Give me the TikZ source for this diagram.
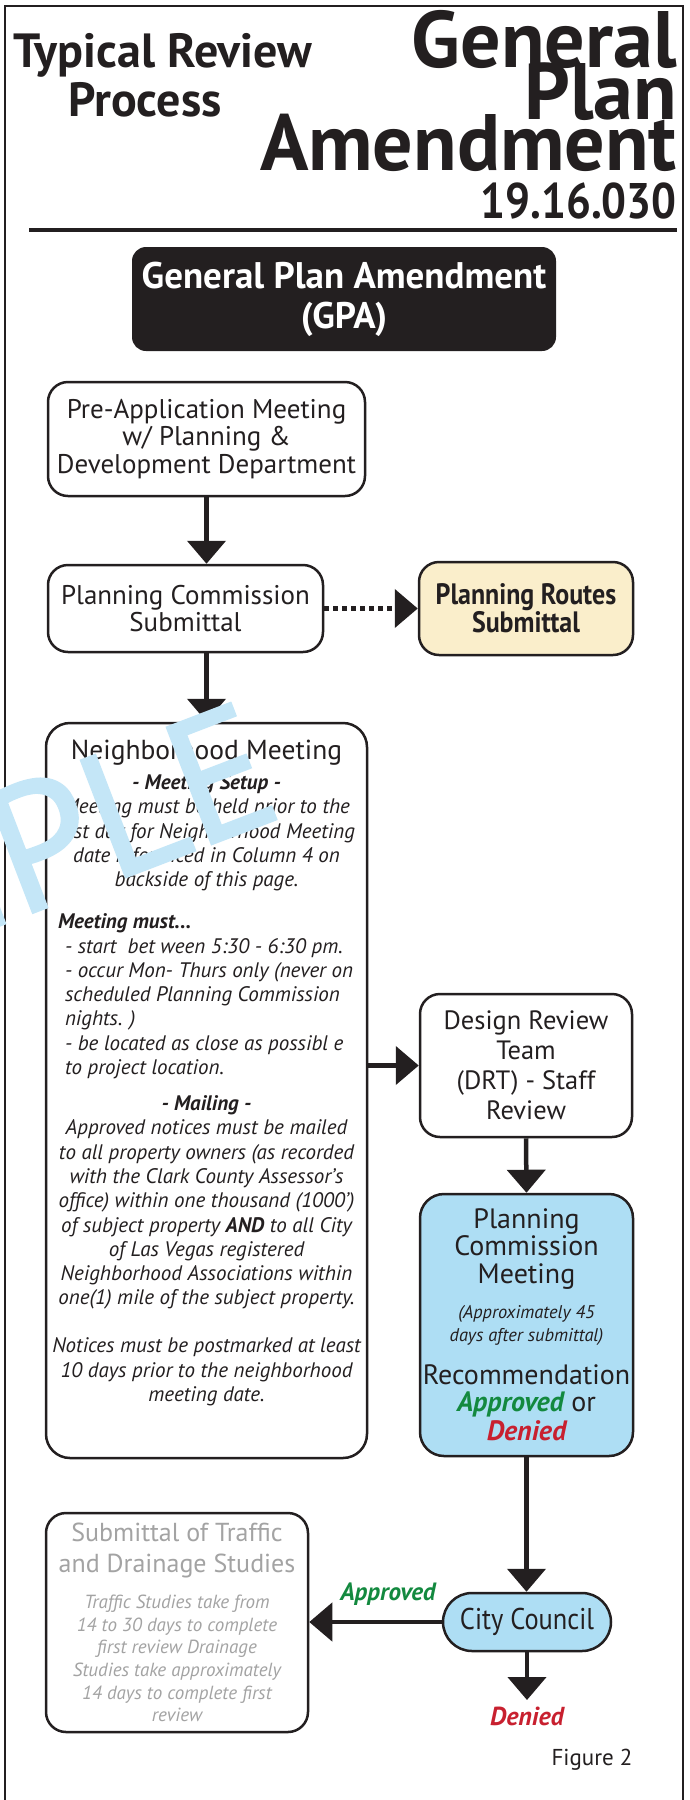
\documentclass[tikz,border=0pt]{standalone}
\usepackage{fontspec}
\setmainfont{PT Sans}
\newfontfamily\narrowfont[FakeStretch=0.88]{PT Sans}
\newfontfamily\stampfont[FakeBold=1.5]{PT Sans}
\usetikzlibrary{arrows.meta,positioning}

\definecolor{boxline}{HTML}{231F20}
\definecolor{skyfill}{HTML}{AEDEF4}
\definecolor{creamfill}{HTML}{FAEECB}
\definecolor{okgreen}{HTML}{13893F}
\definecolor{nored}{HTML}{C8202F}
\definecolor{softgray}{HTML}{A3A3A3}
\definecolor{stampblue}{HTML}{C4E6F7}

\newcommand{\fsz}[2]{\fontsize{#1}{#2}\selectfont}

\begin{document}
\begin{tikzpicture}[
  x=1pt, y=-1pt,
  every node/.style={text=boxline}, % dark text everywhere
  stepbox/.style={draw=boxline, line width=2.5pt, rounded corners=20pt,
    fill=white, align=center, inner sep=0pt},
  flow/.style={draw=boxline, line width=4.5pt,
    -{Triangle[length=23pt,width=38pt]}},
  yes/.style={text=okgreen, font=\bfseries\itshape\fsz{25}{26}},
  no/.style={text=nored, font=\bfseries\itshape\fsz{26}{27}}
]
  \useasboundingbox (0,0) rectangle (689,1800);
  \draw[line width=2pt, boxline] (5,1800) |- (683,6) -- (683,1800);

  % heading
  \node[anchor=base, font=\bfseries\fsz{48}{48}] (hdrtop) at (163,67) {Typical Review};
  \node[anchor=base, font=\bfseries\fsz{48}{48}] (hdrbot) at (145,116) {Process};
  \node[anchor=base east, inner sep=0pt, font=\bfseries\fsz{80}{80}] (gen) at (677,67) {General};
  \node[anchor=base east, inner sep=0pt, font=\bfseries\fsz{80}{80}] (plan) at (677,119) {Plan};
  \node[anchor=base east, inner sep=0pt, font=\bfseries\fsz{80}{80}] (amend) at (677,170) {Amendment};
  \node[anchor=base east, inner sep=0pt, font=\narrowfont\bfseries\fsz{50}{50}] (code) at (677,218) {19.16.030};
  \draw[line width=4.5pt, boxline] (29,230) -- (677,230);

  \node[fill=boxline, rounded corners=14pt, minimum width=424pt, minimum height=104pt,
    align=center, text=white, font=\bfseries\fsz{37}{40}] (gpa) at (344,299)
    {General Plan Amendment\\(GPA)};

  % boxes
  \node[stepbox, minimum width=317pt, minimum height=114pt, font=\fsz{27}{27.5}] (preapp) at (206.5,439)
    {Pre-Application Meeting\\w/ Planning \&\\Development Department};
  \node[stepbox, minimum width=275pt, minimum height=87pt, font=\fsz{27}{27}] (pcs) at (185.5,608.5)
    {Planning Commission\\Submittal};
  \node[stepbox, fill=creamfill, minimum width=214pt, minimum height=93pt,
    font=\narrowfont\bfseries\fsz{29.5}{27}] (routes) at (526,608.5)
    {Planning Routes\\Submittal};

  \node[stepbox, rounded corners=24pt, minimum width=321pt, minimum height=735pt] (nbhd) at (206.5,1090.5) {};
  \node[below=18pt of nbhd.north, align=center, inner sep=0pt, font=\itshape\fsz{21}{24.3}] (nbtext) {%
    {\upshape\fsz{27.5}{30}Neighborhood Meeting}\\[5.7pt]
    \textbf{- Meeting Setup -}\\
    Meeting must be held prior to the\\
    last day for Neighborhood Meeting\\
    date referenced in Column 4 on\\
    backside of this page.\\[17.7pt]
    \makebox[297pt][l]{\textbf{Meeting must...}}\\
    \makebox[297pt][l]{\hspace{7pt}- start\ \ bet ween 5:30 - 6:30 pm.}\\
    \makebox[297pt][l]{\hspace{7pt}- occur Mon- Thurs only (never on}\\
    \makebox[297pt][l]{\hspace{7pt}scheduled Planning Commission}\\
    \makebox[297pt][l]{\hspace{7pt}nights. )}\\
    \makebox[297pt][l]{\hspace{7pt}- be located as close as possibl e}\\
    \makebox[297pt][l]{\hspace{7pt}to project location.}\\[11.7pt]
    \textbf{- Mailing -}\\
    Approved notices must be mailed\\
    to all property owners (as recorded\\
    with the Clark County Assessor's\\
    office) within one thousand (1000')\\
    of subject property \textbf{AND} to all City\\
    of Las Vegas registered\\
    Neighborhood Associations within\\
    one(1) mile of the subject property.\\[23.7pt]
    Notices must be postmarked at least\\
    10 days prior to the neighborhood\\
    meeting date.};

  \node[stepbox, minimum width=212pt, minimum height=143pt, font=\fsz{26.5}{30}] (drt) at (526,1065.5)
    {Design Review\\Team\\(DRT) - Staff\\Review};
  \node[stepbox, fill=skyfill, rounded corners=24pt, minimum width=213pt, minimum height=262pt,
    font=\fsz{28}{27.5}] (pcm) at (526.5,1325)
    {Planning\\Commission\\Meeting\\[7.5pt]
     {\itshape\fsz{18.4}{20}(Approximately 45}\\[-4.5pt]
     {\itshape\fsz{18.4}{20}days after submittal)}\\[15.5pt]
     Recommendation\\
     {\bfseries\itshape\color{okgreen}Approved} or\\[1.5pt]
     {\bfseries\itshape\color{nored}Denied}};
  \node[stepbox, fill=skyfill, rounded corners=29pt, minimum width=168pt, minimum height=58pt,
    font=\narrowfont\fsz{30}{30}] (council) at (527,1622) {City Council};
  \node[stepbox, minimum width=262pt, minimum height=219pt, text=softgray,
    font=\itshape\fsz{19}{22.6}] (studies) at (177,1622.5)
    {{\upshape\fsz{26}{30}Submittal of Traffic}\\[8.4pt]
     {\upshape\fsz{26}{30}and Drainage Studies}\\[13.4pt]
     Traffic Studies take from\\
     14 to 30 days to complete\\
     first review Drainage\\
     Studies take approximately\\
     14 days to complete first\\
     review};
  \coordinate (denyend) at (527,1700);

  % connectors
  \draw[flow] (preapp.south) -- (preapp.south |- pcs.north);
  \draw[flow, dash pattern=on 5pt off 4pt] (pcs.east) -- (routes.west);
  \draw[flow] (pcs.south -| nbhd.north) -- (nbhd.north);
  \draw[flow] (nbhd.east |- drt.west) -- (drt.west);
  \draw[flow] (drt.south) -- (pcm.north);
  \draw[flow] (pcm.south) -- (pcm.south |- council.north);
  \draw[flow] (council.west) -- (council.west -| studies.east);
  \draw[flow] (council.south) -- (denyend);

  \node[yes] (yeslbl) at (388,1594) {Approved};
  \node[no, below=3pt of denyend] (nolbl) {Denied};
  \node[font=\fsz{23}{24}] (fig) at (592,1760) {Figure 2};

  % watermark on top
  \begin{scope}
    \clip (0,0) rectangle (689,1800);
    \node[rotate=21, anchor=base east, inner sep=0pt, text=stampblue,
      font=\stampfont\fsz{178}{178}] (stamp) at (287,815) {SAMPLE};
  \end{scope}
\end{tikzpicture}
\end{document}
